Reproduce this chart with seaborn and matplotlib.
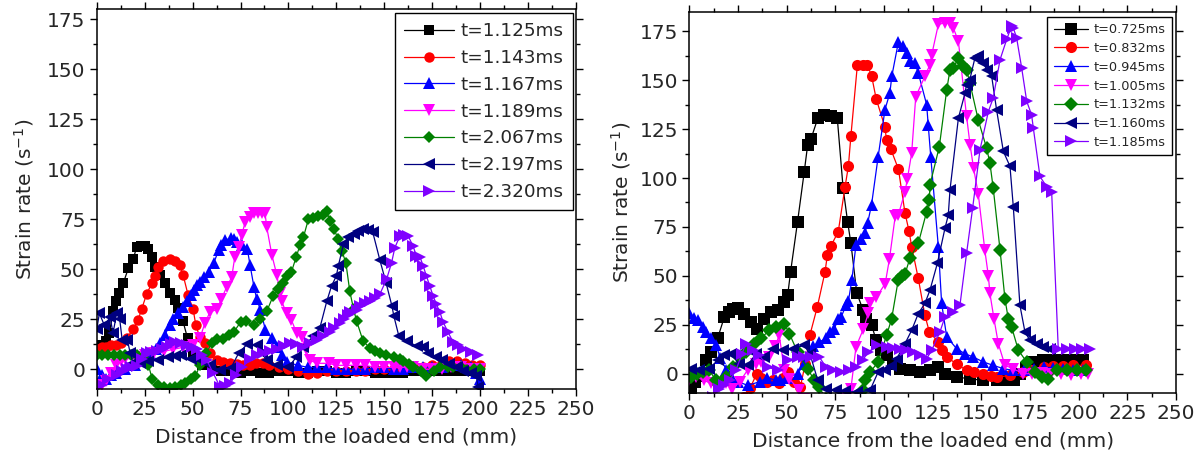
import numpy as np
import pandas as pd
import matplotlib
matplotlib.use("Agg")
import matplotlib.pyplot as plt
from matplotlib.ticker import MultipleLocator
import seaborn as sns

# ---------------- data ----------------
left_labels = ["t=1.125ms", "t=1.143ms", "t=1.167ms", "t=1.189ms",
               "t=2.067ms", "t=2.197ms", "t=2.320ms"]
right_labels = ["t=0.725ms", "t=0.832ms", "t=0.945ms", "t=1.005ms",
                "t=1.132ms", "t=1.160ms", "t=1.185ms"]

L_black = [(0, 10), (2.5, 12), (5, 14), (6.6, 18), (8.5, 29), (10, 34), (11.6, 38), (13.8, 43),
           (16.5, 50.5), (19, 55), (20.8, 61), (23, 61.5), (25, 61.7), (27, 60), (28.7, 56),
           (30.4, 51), (33, 47), (35.6, 43), (38.2, 38), (40.8, 34.6), (42.5, 30.5), (45, 24),
           (47.4, 15.5), (50, 8), (55, 2), (60, 0), (65, -1), (70, -1), (75, -2), (80, -1),
           (85, -2), (90, -2), (95, -1), (100, -1), (105, -2), (110, -2), (115, -1), (120, -1),
           (125, -2), (130, -2), (135, -1), (140, -1), (145, -2), (150, -2), (155, -2),
           (160, -2), (165, -1), (170, -1), (175, -1), (180, -1), (185, -1), (190, -1),
           (195, -1), (200, -1)]
L_red = [(0, 10), (2.5, 11), (5, 11), (7.5, 12), (10, 12), (12.5, 13), (15.6, 15.5), (19, 20),
         (21.6, 24.7), (23.4, 30), (26, 37.5), (28.7, 43), (30.4, 46.5), (32, 51), (34.6, 54),
         (38, 55), (40.8, 54), (43.4, 52), (45.1, 47), (47.7, 37), (50.3, 30), (51.7, 22),
         (53.8, 16), (56.4, 13), (59, 8), (62.6, 4.7), (66, 3.5), (69.5, 3), (73, 2.5),
         (76.4, 2), (80, 2), (83, 3), (86.8, 3), (90, 2), (95, 1), (100, 0), (105, -1),
         (110, -2.5), (115, -2), (120, -1), (125, -1), (130, -1), (135, -1), (140, -1),
         (145, 0), (150, 0), (155, 0), (160, 0), (165, 1), (170, 1), (175, 2), (180, 3),
         (184, 4), (188, 4), (192, 3), (196, 2), (200, 2)]
L_blue = [(0, 0), (2.5, -3), (5, -5), (7.5, -3), (10, -2), (15, 0), (20, 2), (25, 5), (28, 8),
          (31, 10), (33, 13), (35.5, 17), (38, 22), (40, 25), (42.5, 28), (45, 31), (47, 34),
          (49, 37), (50.7, 39.6), (52.5, 42), (54, 43.7), (56, 46), (58.4, 48.7), (61, 53),
          (63.6, 59.6), (65, 62), (67, 64.6), (69.8, 65.5), (71.5, 65), (73.3, 63.8), (76, 62),
          (78.5, 60.4), (80, 52), (82, 41.3), (83.5, 35), (85.4, 29.7), (88, 19.7), (91.4, 15.5),
          (94, 11), (96.5, 7), (99, 3.6), (105, 2), (110, 1), (115, 1), (120, 1), (125, 0),
          (130, 0), (135, 0), (140, 0), (145, 1), (150, 1), (155, 0), (160, 0), (165, 1),
          (170, 1), (175, 1), (180, 1), (185, 2), (190, 2), (195, 1), (198, -2), (200, -5)]
L_magenta = [(0, -8), (2.5, -8), (5, -6), (7.5, -2), (10, 2), (12.5, 4), (15, 5), (20, 6),
             (25, 7), (30, 8), (35, 9), (40, 10), (45, 11), (50, 12), (53.8, 15.5), (56.4, 23),
             (59, 28.5), (62.6, 30), (65, 35), (67.7, 41), (70.4, 46), (72, 56), (74, 61),
             (75.6, 67), (77.4, 73.5), (80, 76), (82, 78), (84, 78), (86, 78), (87.8, 78),
             (88.7, 71), (91.4, 57), (94, 47), (95.6, 38), (96.5, 34), (99, 28), (101.6, 24.6),
             (104.3, 18), (107, 16), (109, 10), (111, 4.6), (115, 3), (121, 3), (125, 2),
             (130, 2), (135, 2), (140, 2), (145, 1), (150, 1), (155, 1), (158, 1), (162, 1),
             (165, 1), (170, 0), (175, 0), (180, 0), (185, 1), (190, 1), (195, 0), (200, 0)]
L_green = [(0, 7), (3, 7), (6, 7), (9, 7), (12, 7), (15, 7), (18, 7), (21, 7), (24, 6), (27, 2),
           (29, -5), (32, -8), (35, -9), (38, -9.5), (41, -9), (44, -8), (46, -6.7), (49, -5),
           (51.4, -3.3), (54, 2), (57, 8), (60, 13), (62.6, 15), (66, 15), (69, 17), (71.5, 18.6),
           (75, 23.6), (78, 24), (82, 22), (85.4, 25), (88.7, 29), (92, 36.6), (94.7, 40),
           (97, 43), (99, 46.7), (101.5, 48.5), (104, 56), (106, 62), (107.8, 66), (110.4, 75),
           (113, 75.5), (115.6, 76.6), (118, 77), (120, 79), (121.5, 74), (124, 70), (125.8, 65),
           (128, 59), (130, 53), (132, 39), (134, 30), (135.6, 24), (139, 14), (142.5, 10.7),
           (145, 9), (147.7, 8), (151, 7), (155, 6), (158, 5), (160, 4.3), (163, 2.5), (165, 1),
           (169, -0.7), (172, -3.5), (176, -1), (179, 1.3), (183, 1.3), (186, 1), (190, 1.3),
           (193, -0.3), (197, 0), (200, 0)]
L_navy = [(0, 20), (1.4, 28), (4, 22), (7, 26), (8.5, 18), (10.4, 28), (12, 25), (13.3, 14.5),
          (16, 14.6), (17.5, 8), (19, 3), (22.5, 3), (27, 4), (32, 4.6), (37.3, 6), (41, 6.5),
          (44, 7), (49, 5), (54, 4.6), (59, 2), (64.5, -0.3), (70, 0.7), (74, 8), (78.5, 12.6),
          (83.6, 12), (86, 8), (88.7, 4.6), (94, 2), (100, 1), (104, 6), (107.8, 11),
          (113, 16.7), (116.4, 20.7), (120, 34), (122.5, 41.7), (125, 46.7), (126, 51.6),
          (128.7, 62.6), (131, 66), (134, 67.6), (136.5, 69), (139, 70), (141.5, 69.5),
          (144, 68.5), (147.7, 54.6), (151, 43), (154, 31.6), (155, 26.6), (157.6, 16.6),
          (162, 14), (167, 11.6), (170, 11), (173, 8), (177, 6), (180, 4.5), (184, 2.5),
          (188, 1), (191, -1), (195, -2), (198, -3.4), (199, -9)]
L_purple = [(0, -9), (3, -8), (6, -5), (10.4, -3), (13, -1), (15.6, 0), (18, 1), (20.9, 1.6),
            (23.5, 5), (26, 8), (28.5, 8.5), (31.3, 9), (34, 10), (36.5, 11), (38.5, 12.5),
            (40.8, 13.8), (44, 13), (46.9, 12), (49.5, 11), (52.1, 10), (55, 7), (57.4, 4.6),
            (60.8, -2), (64.3, -8.7), (67, -8.5), (69.5, -7), (72.5, -3), (76, 1), (79.9, 5),
            (83.5, 7), (86.9, 8), (90.5, 9), (93.8, 10), (97.5, 11.5), (100.8, 13), (104, 12.5),
            (107.7, 11), (111, 13), (114.7, 14.6), (118, 16.5), (121.6, 18.6), (124, 20.5),
            (126.8, 23), (129, 25), (131.2, 27.1), (132, 28.8), (135.6, 29.6), (137.3, 31.6),
            (140, 33), (142.5, 34.1), (145, 35.5), (147.7, 37.6), (151.2, 45), (153.8, 53.3),
            (155.5, 60.8), (158.1, 66.6), (160.3, 67), (162.5, 66.6), (165, 61.6), (166.8, 56.6),
            (168.6, 56.3), (170.3, 51.6), (172, 46.6), (173.8, 41.5), (175.5, 36.6), (177.2, 32.5),
            (179, 28.6), (180.7, 23.6), (183.3, 18.5), (185.9, 13.6), (188.5, 12), (191.1, 10.3),
            (195, 8.5), (199, 7.3)]

R_black = [(0.9, -8.5), (3, -4), (5, -1), (8.6, 7), (11, 11), (14.5, 18), (18, 29), (20.5, 31.6),
           (22.5, 33), (24.8, 33.6), (28, 30.7), (31.7, 26.5), (35, 23), (38.5, 28), (42, 31.6),
           (45.4, 32.4), (48.8, 36.7), (50.5, 40), (52, 52), (55.6, 77.7), (59, 103), (60.8, 117),
           (62.5, 120), (66, 130.6), (69.3, 132.3), (72.8, 131.8), (76, 130.6), (79, 94.8),
           (81.3, 77.7), (83, 66.6), (86, 41.3), (89.3, 32.4), (91, 28), (93.6, 25), (96, 17),
           (98.5, 12), (101.3, 9.4), (104.7, 5), (108, 2.5), (113.3, 1.7), (118.5, 0.9),
           (123.6, 1.7), (127.9, 3.4), (131.3, 0), (137.3, -1.7), (144, -2.6), (151, -3.4),
           (158, -3.4), (163, -3), (167, -3), (170, 0), (173, 3), (176.7, 6), (181.8, 6.8),
           (187, 6.8), (192, 6.8), (197, 6.8), (202, 6.8)]
R_red = [(28, -12), (31.2, -7.4), (34.6, 0), (37, -2), (40, -4), (43, -3), (46, -5), (48, -2),
         (50.5, 1), (54, -4), (57, -7), (59.5, 5), (62, 20), (65.7, 34), (69.7, 52), (70.9, 60.6),
         (72.8, 65.4), (76.5, 72.6), (80, 95.6), (81.7, 106), (83, 121.6), (86.3, 157.6),
         (89, 157.6), (91.5, 157.6), (93.6, 152.3), (96, 140.4), (100.5, 126), (101.3, 119.2),
         (103.4, 115), (107.4, 104.6), (110.8, 82), (112.9, 72.7), (114.2, 65), (117.6, 48.7),
         (121, 29.9), (123.3, 21.3), (127.9, 16.2), (130, 12), (132.2, 8.5), (137.3, 5),
         (142.4, 1.7), (146, 1), (151, 0), (155, -1), (158, -1.7), (164.7, -0.9), (171.5, 0.9),
         (176, 2), (182, 3.4), (187, 3.8), (192, 4), (197, 4.3), (204, 4.3)]
R_blue = [(0, 31), (2.5, 28.5), (4.3, 27.3), (6.8, 24), (8.6, 21.3), (11, 18), (13.7, 14.5),
          (16, 8), (19, 2), (22, -2), (25, -4), (30, -6), (36.4, -4), (40, -2), (44.5, -3.4),
          (46.7, -3.4), (50, -2), (55.6, 0), (59, 5), (63.4, 14), (66.8, 16.3), (70.2, 18),
          (72.3, 21.2), (74.5, 23), (76.5, 28), (78, 29), (80.5, 35), (81.7, 37), (83.5, 48),
          (85.6, 66), (88, 69), (90.2, 72), (91.6, 77), (93.6, 86.4), (97, 111), (100.5, 135),
          (103, 143.4), (104, 152), (107.4, 169.6), (110, 167.5), (111.7, 163.8), (113.4, 160),
          (115.9, 158.8), (117.6, 153.7), (121.9, 137.5), (122.7, 127.2), (124, 111),
          (127.9, 64.9), (129.6, 35.9), (132.2, 18.8), (137.3, 12.8), (141.6, 10.2),
          (145.9, 8.5), (151, 6), (156, 4.3), (161.3, 2.6), (166.4, 1.7), (172, 2), (177, 2.5),
          (182, 3.4), (187, 3), (192, 2.5), (197, 2), (202, 2)]
R_magenta = [(0, -3), (3.4, -1.7), (7.7, -3.4), (11, -5), (14, -6), (18.8, -5), (22, -8),
             (26, -4), (30, 2), (34, 5), (37, 6), (41, 8.5), (44, 14), (46.2, 19.6), (48.8, 1.7),
             (51.4, -2.6), (56.5, -8.5), (59, -13), (80, -13), (83, -7.7), (85.6, 13.7),
             (89.3, 22.6), (92, 31), (92.8, 35.9), (96, 39), (100.6, 46), (102.8, 58.7),
             (105.8, 80.8), (107.3, 81), (110.8, 93), (112, 99.6), (114.2, 112.7), (116.3, 141.6),
             (121, 152), (123.6, 158), (124.5, 163), (127.9, 178.5), (131.3, 179.3),
             (133.9, 179.3), (135.6, 176.7), (138.2, 170), (142.4, 131.5), (144.2, 117),
             (146, 105), (148.4, 92), (151.8, 63), (153.6, 50), (154.4, 41), (156.5, 28),
             (158.7, 15.4), (162.1, 4.3), (166.4, 2.5), (171.5, 0), (176, 0), (181, 0.5),
             (186, 0), (191, 0), (196, -0.5), (201, 0), (205, 0)]
R_green = [(0.9, -1.7), (4, 0), (7, 1), (10.3, 1.7), (13.7, -3.4), (15.4, -6), (18.8, -1.7),
           (22.3, 3.4), (25.7, 8.5), (29, 11), (33.4, 15.4), (36.8, 18), (41, 22.2), (44.5, 23.9),
           (48.8, 25.6), (51.4, 20.5), (55.6, 11), (60.8, 2.6), (64.2, -3.4), (66.8, -6.8),
           (70, -13), (86, -13), (89.3, -8.5), (90.2, -3.4), (93, 1), (97, 6), (101.3, 19.6),
           (103.9, 28), (107.3, 47.8), (109, 50), (110.8, 51), (113.3, 59), (117.6, 66.6),
           (121.9, 82.8), (123.3, 88.8), (123.6, 96.5), (128.4, 116), (132.2, 145),
           (133.9, 155.4), (135.5, 156), (138.2, 161.4), (140.5, 157), (142.4, 155.4),
           (144.1, 148.6), (148.4, 129.7), (152.7, 115.3), (154.4, 107.6), (156.1, 94.8),
           (159.6, 63.2), (162.1, 38.4), (163.8, 28.2), (165.5, 24), (169, 12), (173.3, 6),
           (177.5, 0.9), (181, -1.7), (184.4, -2.6), (188.7, 1.7), (193.8, 1.7), (199, 1.7),
           (204, 1.7)]
R_navy = [(0.9, 2.6), (5, 1.7), (10.3, 2.6), (14.5, 6.8), (18, 9.4), (21.4, 10.2), (25.7, 5),
          (30, 4.3), (34.2, 10.2), (38.5, 8.5), (42.8, 12.8), (48, 12), (53, 12.8), (59, 14.5),
          (62, 10), (66, -3.4), (70.2, -7.7), (75.3, -8.5), (80, -9), (86, -9.5), (92.8, -8.5),
          (97, 0.9), (100.5, 1.7), (103.5, 4), (106.5, 7.7), (110.8, 15.4), (114.2, 22.2),
          (117.6, 30.7), (121, 35.9), (123.6, 42.7), (127.4, 56.4), (131.3, 74.3), (133, 81),
          (133.9, 94), (138.2, 130.6), (141.6, 143.4), (142.4, 147.7), (144, 150),
          (146.7, 161.4), (148.4, 162.2), (151, 158.8), (153, 155), (155.3, 152), (157.8, 135),
          (161.3, 113.6), (164.7, 106), (166.4, 85.4), (169.8, 35), (172.4, 21.3), (175, 17),
          (178.4, 15.4), (181.8, 13.7), (185.2, 12.8)]
R_purple = [(12, -12), (15, -8), (18, -6), (21, -3), (24, 2), (27, 10), (29, 15.4), (32.5, 12),
            (36, 9.4), (40.2, 3.4), (45.4, 1.7), (50.5, 6.8), (55.6, 8.5), (59, 8.5), (62.5, 8.5),
            (66.8, 8.5), (70.2, 3.4), (73.6, 1.7), (78, 0.9), (82.2, 1.7), (85.6, 3.4), (89, 7),
            (92, 11), (96.2, 14.5), (101.3, 13.7), (104.5, 13.2), (108.2, 12.8), (111.5, 12),
            (115, 11), (118.5, 9.5), (121.9, 7.7), (124.5, 12), (128.7, 21.3), (131.3, 29),
            (135.6, 31.6), (139, 35), (142.4, 61.5), (145.5, 84.5), (149.3, 114.4), (153.6, 134),
            (156.1, 140.9), (159.6, 160.5), (163, 170.8), (165.5, 177.6), (166.4, 176.7),
            (168.1, 171.7), (170.7, 156.3), (173.3, 139.2), (175.8, 132.3), (176.7, 125.5),
            (180.1, 100.8), (183.5, 95.6), (186.1, 93), (189.5, 12.8), (193.8, 12.8),
            (198, 12.8), (201.5, 12.8), (205.8, 12.8)]

left_series = [L_black, L_red, L_blue, L_magenta, L_green, L_navy, L_purple]
right_series = [R_black, R_red, R_blue, R_magenta, R_green, R_navy, R_purple]

colors = ["#000000", "#FF0000", "#0000FF", "#FF00FF", "#008000", "#000080", "#8000FF"]
marker_list = ["s", "o", "^", "v", "D", "<", ">"]
x_ticks = list(range(0, 251, 25))
y_ticks = list(range(0, 176, 25))


def build_df(series, labels):
    rows = []
    for lab, pts in zip(labels, series):
        for x, y in pts:
            rows.append((lab, x, y))
    return pd.DataFrame(rows, columns=["series", "x", "y"])


sns.set_style("ticks")
plt.rcParams["font.family"] = ["DejaVu Sans"]
plt.rcParams["mathtext.fontset"] = "dejavusans"

fig = plt.figure(figsize=(12.03, 4.61), dpi=100)
ax1 = fig.add_axes([0.0804, 0.1555, 0.3984, 0.8243])
ax2 = fig.add_axes([0.5730, 0.1469, 0.4046, 0.8277])


def draw(ax, series, labels, ylim, msize, legend_fs, anchor, lspace, ylpad):
    df = build_df(series, labels)
    pal = dict(zip(labels, colors))
    mk = dict(zip(labels, marker_list))
    sns.lineplot(data=df, x="x", y="y", hue="series", style="series",
                 hue_order=labels, style_order=labels, palette=pal,
                 markers=mk, dashes=False, sort=False, estimator=None,
                 markersize=msize, markeredgewidth=0, linewidth=0.9,
                 legend=False, ax=ax)
    lines = ax.get_lines()
    for ln, m in zip(lines, marker_list):
        if m == "D":
            ln.set_markersize(msize * 0.85)
        if m in ("^", "v", "<", ">"):
            ln.set_markersize(msize * 1.1)
    ax.set_xlim(0, 250)
    ax.set_ylim(*ylim)
    ax.set_xticks(x_ticks)
    ax.set_yticks(y_ticks)
    ax.xaxis.set_minor_locator(MultipleLocator(12.5))
    ax.yaxis.set_minor_locator(MultipleLocator(12.5))
    ax.tick_params(which="both", direction="out", top=True, right=True,
                   labeltop=False, labelright=False, width=1.0, color="black")
    ax.tick_params(which="major", length=5, labelsize=14.5, pad=3)
    ax.tick_params(which="minor", length=3)
    for sp in ax.spines.values():
        sp.set_visible(True)
        sp.set_linewidth(1.1)
        sp.set_color("black")
    ax.set_xlabel("Distance from the loaded end (mm)", fontsize=14.5, labelpad=6)
    ax.set_ylabel("Strain rate (s$^{-1}$)", fontsize=14.5, labelpad=ylpad)
    leg = ax.legend(lines, labels, loc="upper right", bbox_to_anchor=anchor,
                    borderaxespad=0, fontsize=legend_fs, frameon=True, fancybox=False,
                    edgecolor="black", framealpha=1, handlelength=2.7,
                    labelspacing=lspace, borderpad=0.5, handletextpad=0.4)
    leg.get_frame().set_linewidth(1.0)


draw(ax1, left_series, left_labels, (-10, 180), 7.5, 13.2, (0.994, 0.990), 0.48, 8)
draw(ax2, right_series, right_labels, (-10, 185), 8.0, 9.3, (0.992, 0.987), 0.45, 5)

fig.savefig("out.png", dpi=100)
